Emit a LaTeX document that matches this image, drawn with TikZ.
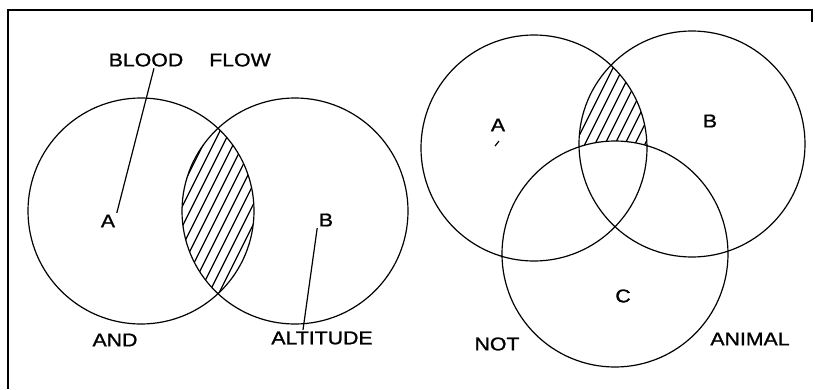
\documentclass[tikz,border=0pt]{standalone}
\usepackage{fontspec}
\newfontfamily\vennfont[FakeStretch=1.15,FakeBold=1.2]{Liberation Sans}
\usetikzlibrary{calc}
\tikzset{
  venn/.style={line width=1.2pt},
  hatch/.style={line width=1.2pt},
  lbl/.style={font=\vennfont\fontsize{18.5}{20}\selectfont,inner sep=1.5pt},
}
\newcommand{\hatchlines}[4]{%
  \foreach \x in {#1,#2,...,#3}{
    \draw[hatch] (\x-60,#4+120) -- (\x+60,#4-120);}}

\begin{document}
\begin{tikzpicture}[x=1pt,y=-1pt]
\useasboundingbox (0,0) rectangle (815,389);
\draw[line width=2pt] (8,389) -- (8,10) -- (812,10) -- (812,22);
% left: A and B
\begin{scope}
  \clip (141,211) circle[radius=113];
  \clip (295,211) circle[radius=113];
  \hatchlines{130}{140}{310}{211}
\end{scope}
\draw[venn] (141,211) circle[radius=113] (295,211) circle[radius=113];
\node[lbl] (blood) at (146,60) {BLOOD};
\node[lbl] (flow) at (240,60) {FLOW};
\node[lbl] (lblA) at (108,221) {A};
\node[lbl] (lblB) at (326,220) {B};
\node[lbl] (andlbl) at (115,340) {AND};
\node[lbl] (alt) at (322,338) {ALTITUDE};
\draw[venn] ([xshift=8pt]blood.south) -- (lblA.north east);
\draw[venn] (lblB.south west) -- ([xshift=-19pt]alt.north);
% right: A and B, not C
\begin{scope}
  \clip (534,148) circle[radius=113];
  \clip (692,144) circle[radius=113];
  \hatchlines{532}{542}{702}{90}
  \fill[white] (615,254) circle[radius=113];
\end{scope}
\draw[venn] (534,148) circle[radius=113] (692,144) circle[radius=113]
  (615,254) circle[radius=113];
\node[lbl] (rA) at (498,125) {A};
\node[lbl] (rB) at (710,121) {B};
\node[lbl] (rC) at (623,296) {C};
\node[lbl] (notlbl) at (497,344) {NOT};
\node[lbl] (animal) at (750,339) {ANIMAL};
\draw[venn] ([xshift=-3pt,yshift=-13pt]rA.south) -- ([xshift=1pt,yshift=-8pt]rA.south);
\end{tikzpicture}
\end{document}
